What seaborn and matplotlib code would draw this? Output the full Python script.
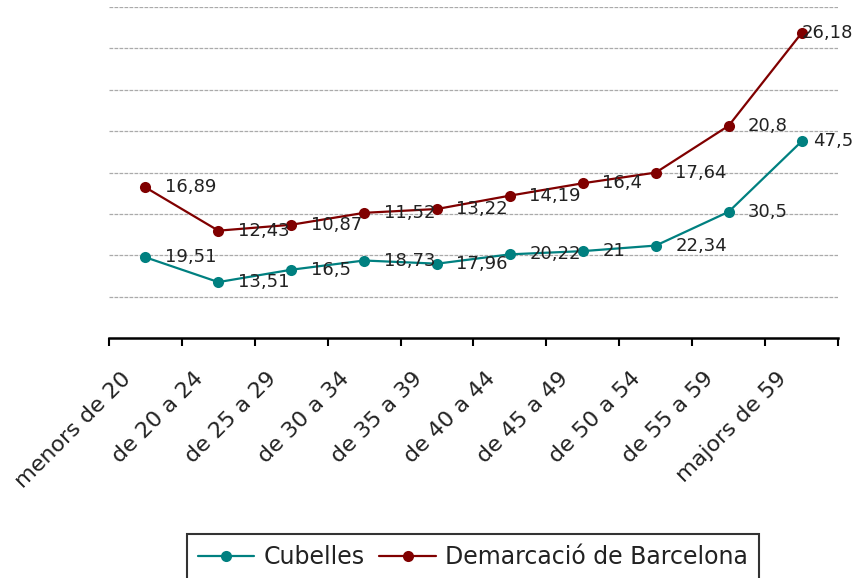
import matplotlib
matplotlib.use("Agg")
import matplotlib.pyplot as plt
import matplotlib.transforms as mtransforms
import seaborn as sns
import pandas as pd
import numpy as np

categories = ["menors de 20", "de 20 a 24", "de 25 a 29", "de 30 a 34", "de 35 a 39",
              "de 40 a 44", "de 45 a 49", "de 50 a 54", "de 55 a 59", "majors de 59"]
cubelles = [19.51, 13.51, 16.5, 18.73, 17.96, 20.22, 21, 22.34, 30.5, 47.5]
demarcacio = [16.89, 12.43, 10.87, 11.52, 13.22, 14.19, 16.4, 17.64, 20.8, 26.18]
series_names = ["Cubelles", "Demarcació de Barcelona"]
colors = ["#008080", "#800000"]

sns.set_theme(style="white")
plt.rcParams['font.family'] = ['DejaVu Sans']

# stacked line chart: second series drawn on top of first
stack1 = np.array(cubelles)
stack2 = stack1 + np.array(demarcacio)
n = len(categories)
df = pd.DataFrame({
    "x": list(range(n)) * 2,
    "y": list(stack1) + list(stack2),
    "label": list(cubelles) + list(demarcacio),
    "serie": [series_names[0]] * n + [series_names[1]] * n,
})

fig = plt.figure(figsize=(8.54, 5.78), dpi=100)
ax = fig.add_axes([109 / 854, 1 - 338 / 578, (838 - 109) / 854, (338 - 7) / 578])

sns.lineplot(data=df, x="x", y="y", hue="serie", palette=colors, marker="o",
             markersize=8, markeredgewidth=0, linewidth=1.6, ax=ax, legend=True)

def fmt(v):
    return ("%g" % v).replace(".", ",")

blend = mtransforms.blended_transform_factory(fig.transFigure, ax.transData)
for xi, yi, lab in zip(df["x"], df["y"], df["label"]):
    if xi == n - 1:
        ax.text(853 / 854, yi, fmt(lab), transform=blend, va="center", ha="right",
                fontsize=13, color="#222222")
    else:
        ax.annotate(fmt(lab), (xi, yi), xytext=(14, 0), textcoords="offset points",
                    va="center", ha="left", fontsize=13, color="#222222")

ax.set_xlim(-0.5, n - 0.5)
ax.set_ylim(0, 80)
ax.set_yticks(np.arange(10, 81, 10))
ax.set_yticklabels([])
ax.tick_params(axis="y", length=0)
ax.yaxis.grid(True, color="#aaaaaa", linestyle=(0, (3, 1)), linewidth=0.9)
ax.xaxis.grid(False)

ax.set_xticks(range(n))
ax.set_xticklabels(categories, rotation=45, ha="right", va="center",
                   rotation_mode="anchor", fontsize=16, color="#222222")
ax.tick_params(axis="x", which="major", length=0, pad=27)
shift = mtransforms.ScaledTranslation(-18 / 100, 0, fig.dpi_scale_trans)
for lbl in ax.get_xticklabels():
    lbl.set_transform(lbl.get_transform() + shift)
ax.set_xticks(np.arange(-0.5, n, 1), minor=True)
ax.tick_params(axis="x", which="minor", length=6, width=1.5, color="black",
               direction="out", bottom=True)

for side in ["top", "right", "left"]:
    ax.spines[side].set_visible(False)
ax.spines["bottom"].set_color("black")
ax.spines["bottom"].set_linewidth(1.8)
ax.set_xlabel("")
ax.set_ylabel("")

leg = ax.legend(loc="center", bbox_to_anchor=(473 / 854, 1 - 557 / 578),
                bbox_transform=fig.transFigure, ncol=2, frameon=True, fancybox=False,
                fontsize=17, handlelength=2.4, columnspacing=0.6, handletextpad=0.4,
                borderpad=0.45, borderaxespad=0)
leg.get_frame().set_edgecolor("black")
leg.get_frame().set_linewidth(1.5)
for t in leg.get_texts():
    t.set_color("#222222")

fig.savefig("out.png", dpi=100)
